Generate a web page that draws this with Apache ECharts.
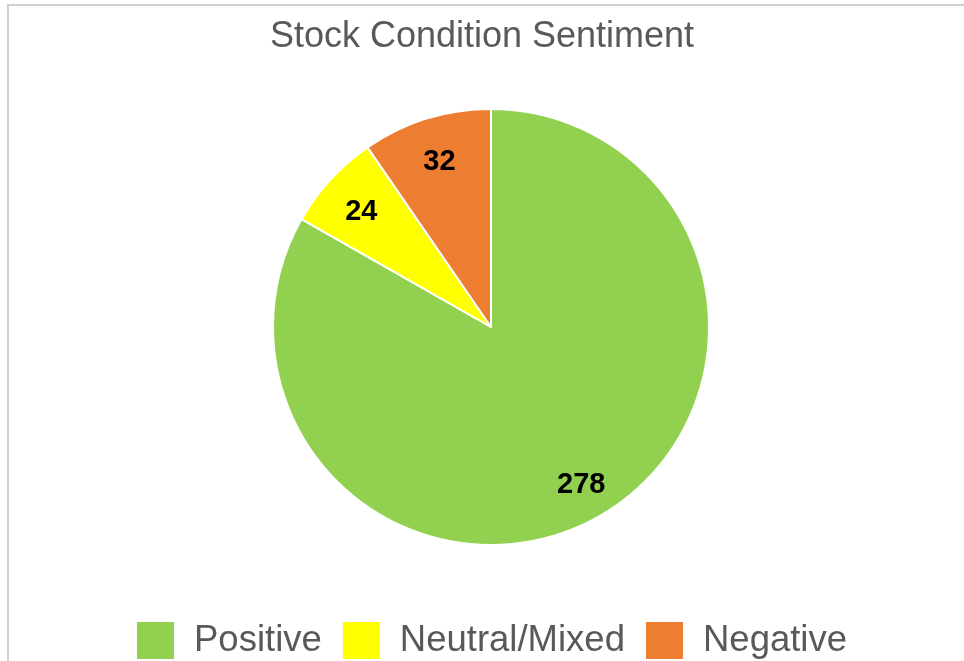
<!DOCTYPE html>
<html>
<head>
<meta charset="utf-8">
<script src="https://cdn.jsdelivr.net/npm/echarts@6/dist/echarts.min.js"></script>
<style>
  html, body { margin: 0; padding: 0; background: #fff; }
  #chart { width: 964px; height: 661px; }
</style>
</head>
<body>
<div id="chart"></div>
<script>
// 数据
const categories = ['Positive', 'Neutral/Mixed', 'Negative'];
const counts = [278, 24, 32];
const colors = ['#92D050', '#FFFF00', '#ED7D31'];

const pieData = categories.map((name, i) => ({
    name: name,
    value: counts[i],
    itemStyle: { color: colors[i] }
}));

const myChart = echarts.init(document.getElementById('chart'));
myChart.setOption({
    backgroundColor: '#fff',
    textStyle: { fontFamily: 'Liberation Sans, Arial, sans-serif' },
    // 外框线
    graphic: [{
        type: 'rect',
        shape: { x: 8, y: 5, width: 1000, height: 700 },
        style: { fill: 'none', stroke: '#d0d0d0', lineWidth: 2 },
        silent: true
    }],
    title: {
        text: 'Stock Condition Sentiment',
        left: 'center',
        top: 14,
        textStyle: {
            color: '#595959',
            fontSize: 36,
            fontWeight: 'normal',
            fontFamily: 'Liberation Sans'
        }
    },
    legend: {
        data: categories,
        top: 620,
        left: 135,
        padding: 0,
        icon: 'rect',
        itemWidth: 39,
        itemHeight: 39,
        itemGap: 19,
        textStyle: {
            color: '#595959',
            fontSize: 36.5,
            fontFamily: 'Liberation Sans',
            padding: [4, 0, 0, 14]
        }
    },
    series: [{
        type: 'pie',
        center: [491, 327],
        radius: [0, 218],
        startAngle: 90,
        clockwise: true,
        data: pieData,
        itemStyle: { borderColor: '#fff', borderWidth: 2 },
        label: { show: false },
        labelLine: { show: false },
        emphasis: { disabled: true },
        animation: false
    }, {
        // 只用来放数值标签，让标签位于约0.8半径处
        type: 'pie',
        center: [491, 327],
        radius: [132, 217],
        startAngle: 90,
        clockwise: true,
        silent: true,
        data: pieData.map(d => ({ name: d.name, value: d.value })),
        itemStyle: { color: 'rgba(0,0,0,0)', borderWidth: 0 },
        label: {
            show: true,
            position: 'inside',
            formatter: '{c}',
            color: '#000',
            fontSize: 29,
            fontWeight: 'bold',
            fontFamily: 'Liberation Sans',
            offset: [1, 5]
        },
        labelLine: { show: false },
        emphasis: { disabled: true },
        animation: false
    }]
});
</script>
</body>
</html>
